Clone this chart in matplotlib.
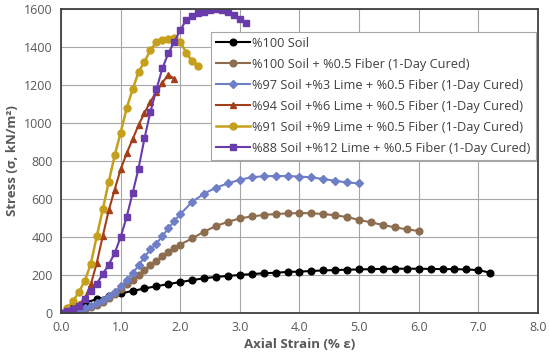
import numpy as np
import matplotlib
matplotlib.use("Agg")
import matplotlib.pyplot as plt

plt.rcParams['font.family'] = ['Open Sans', 'DejaVu Sans']

# %100 Soil
soil_x = [round(0.2 * i, 1) for i in range(37)]
soil_y = [0, 30, 55, 72, 88, 103, 116, 129, 141, 152,
          163, 173, 183, 190, 195, 200, 205, 209, 212, 216,
          218, 221, 224, 226, 228, 229, 231, 232, 233, 233,
          233, 232, 231, 231, 229, 226, 212]

# %100 Soil + %0.5 Fiber
fiber_x = [0, 0.1, 0.2, 0.3, 0.4, 0.5, 0.6, 0.7, 0.8, 0.9, 1.0, 1.1, 1.2, 1.3, 1.4,
           1.5, 1.6, 1.7, 1.8, 1.9, 2.0, 2.2, 2.4, 2.6, 2.8, 3.0, 3.2, 3.4, 3.6, 3.8,
           4.0, 4.2, 4.4, 4.6, 4.8, 5.0, 5.2, 5.4, 5.6, 5.8, 6.0]
fiber_y = [0, 2, 6, 12, 20, 30, 42, 58, 78, 100, 125, 150, 175, 200, 225,
           250, 275, 300, 322, 342, 360, 393, 428, 458, 480, 498, 508, 516, 521, 524,
           526, 525, 521, 514, 505, 490, 477, 463, 451, 440, 432]

# %97 Soil + %3 Lime
lime3_x = [0, 0.1, 0.2, 0.3, 0.4, 0.5, 0.6, 0.7, 0.8, 0.9, 1.0, 1.1, 1.2, 1.3, 1.4,
           1.5, 1.6, 1.7, 1.8, 1.9, 2.0, 2.2, 2.4, 2.6, 2.8, 3.0, 3.2, 3.4, 3.6, 3.8,
           4.0, 4.2, 4.4, 4.6, 4.8, 5.0]
lime3_y = [0, 3, 8, 15, 25, 37, 50, 68, 88, 112, 140, 172, 208, 250, 295,
           335, 365, 405, 445, 485, 520, 585, 628, 660, 682, 702, 714, 720, 721, 721,
           718, 714, 705, 696, 687, 682]

# %94 Soil + %6 Lime
lime6_x = [0, 0.1, 0.2, 0.3, 0.4, 0.5, 0.6, 0.7, 0.8, 0.9, 1.0, 1.1, 1.2, 1.3, 1.4,
           1.5, 1.6, 1.7, 1.8, 1.9]
lime6_y = [0, 10, 25, 45, 80, 150, 265, 405, 540, 650, 756, 840, 914, 989, 1054,
           1112, 1165, 1212, 1255, 1232]

# %91 Soil + %9 Lime
lime9_x = [0, 0.1, 0.2, 0.3, 0.4, 0.5, 0.6, 0.7, 0.8, 0.9, 1.0, 1.1, 1.2, 1.3, 1.4,
           1.5, 1.6, 1.7, 1.8, 1.9, 2.0, 2.1, 2.2, 2.3]
lime9_y = [0, 25, 62, 110, 170, 260, 405, 545, 690, 830, 950, 1077, 1177, 1268, 1323,
           1384, 1425, 1436, 1442, 1445, 1428, 1370, 1325, 1302]

# %88 Soil + %12 Lime
lime12_x = [0, 0.1, 0.2, 0.3, 0.4, 0.5, 0.6, 0.7, 0.8, 0.9, 1.0, 1.1, 1.2, 1.3, 1.4,
            1.5, 1.6, 1.7, 1.8, 1.9, 2.0, 2.1, 2.2, 2.3, 2.4, 2.5, 2.6, 2.7, 2.8, 2.9,
            3.0, 3.1]
lime12_y = [0, 12, 22, 35, 75, 115, 155, 205, 255, 315, 400, 505, 630, 760, 920,
            1060, 1177, 1288, 1367, 1428, 1489, 1542, 1561, 1577, 1586, 1595, 1598, 1595, 1584, 1568,
            1546, 1525]

labels = ['%100 Soil',
          '%100 Soil + %0.5 Fiber (1-Day Cured)',
          '%97 Soil +%3 Lime + %0.5 Fiber (1-Day Cured)',
          '%94 Soil +%6 Lime + %0.5 Fiber (1-Day Cured)',
          '%91 Soil +%9 Lime + %0.5 Fiber (1-Day Cured)',
          '%88 Soil +%12 Lime + %0.5 Fiber (1-Day Cured)']

fig = plt.figure(figsize=(5.5, 3.61), dpi=100)
ax = fig.add_axes([0.111, 0.133, 0.867, 0.842])

ax.plot(soil_x, soil_y, color='#000000', marker='o', ms=4.8, lw=1.5, label=labels[0])
ax.plot(fiber_x, fiber_y, color='#8C6D4F', marker='o', ms=4.8, lw=1.5, label=labels[1])
ax.plot(lime3_x, lime3_y, color='#6F7FC7', marker='D', ms=4.0, lw=1.5, label=labels[2])
ax.plot(lime6_x, lime6_y, color='#A3401C', marker='^', ms=5.0, lw=1.5, label=labels[3])
ax.plot(lime9_x, lime9_y, color='#C4A01C', marker='o', ms=5.0, lw=1.8, label=labels[4])
ax.plot(lime12_x, lime12_y, color='#6A3BAA', marker='s', ms=4.5, lw=1.5, label=labels[5])

ax.set_xlim(0, 8)
ax.set_ylim(0, 1600)
ax.set_xticks(np.arange(0, 8.1, 1.0))
ax.set_xticklabels(['%.1f' % v for v in np.arange(0, 8.1, 1.0)])
ax.set_yticks(np.arange(0, 1601, 200))
ax.grid(True, color='#A6A6A6', lw=0.8)
ax.set_axisbelow(True)
ax.tick_params(length=0, labelsize=9, colors='#595959', pad=6)
for s in ax.spines.values():
    s.set_color('#404040')
    s.set_linewidth(1.3)

ax.set_xlabel('Axial Strain (% ε)', fontsize=9.5, fontweight='bold', color='#595959', labelpad=3)
ax.set_ylabel('Stress (σ, kN/m²)', fontsize=9.5, fontweight='bold', color='#595959', labelpad=4)

leg = ax.legend(loc='upper right', bbox_to_anchor=(0.995, 0.925), fontsize=9.2,
                fancybox=False, edgecolor='#A6A6A6', framealpha=1,
                handlelength=2.7, handletextpad=0.15, labelspacing=0.62,
                borderpad=0.4, borderaxespad=0)
leg.get_frame().set_linewidth(0.8)
for t in leg.get_texts():
    t.set_color('#404040')

fig.savefig('out.png', dpi=100)
